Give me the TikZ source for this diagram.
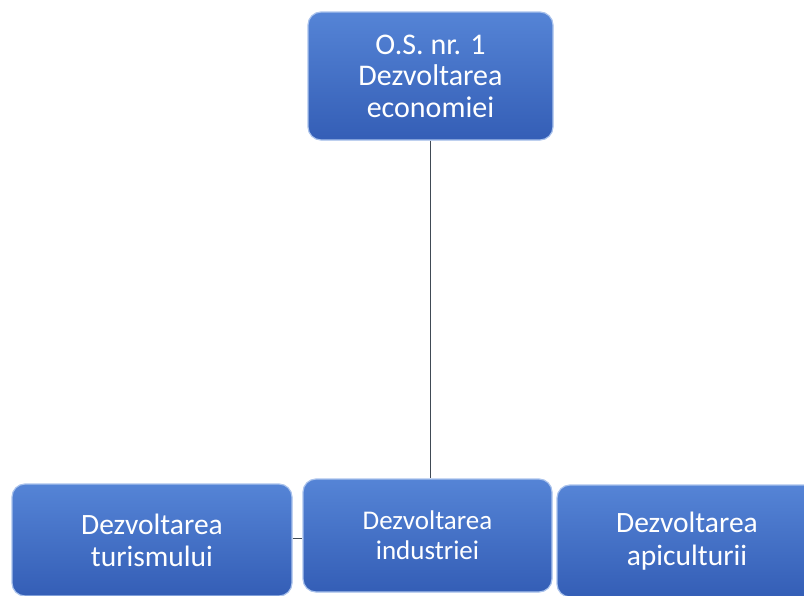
\documentclass[tikz,border=0pt]{standalone}
\usepackage{fontspec}
\setmainfont{Carlito}
\usepackage{tikz}
\usetikzlibrary{calc}
\definecolor{boxtop}{HTML}{5584D6}
\definecolor{boxbot}{HTML}{345EB6}
\definecolor{boxrim}{HTML}{A9C2EC}
\definecolor{linkgray}{HTML}{404A55}

\begin{document}
\begin{tikzpicture}[x=1pt, y=-1pt,
  goal/.style={rectangle, rounded corners=13pt, draw=boxrim, line width=1.2pt,
    top color=boxtop, bottom color=boxbot, text=white, align=center, inner sep=0pt},
  link/.style={draw=linkgray, line width=1pt}]
  \useasboundingbox (0,0) rectangle (804,595);
  \clip (0,0) rectangle (804,595);
  % top objective
  \node[goal, minimum width=245pt, minimum height=128pt,
        font=\fontsize{30}{31.5}\selectfont] (os) at (430.5,76)
        {O.S. nr. 1\\Dezvoltarea\\economiei};
  % directions
  \node[goal, minimum width=280pt, minimum height=112pt,
        font=\fontsize{29.5}{32}\selectfont] (tur) at (152,540)
        {Dezvoltarea\\turismului};
  \node[goal, minimum width=249pt, minimum height=113pt,
        font=\fontsize{27}{30}\selectfont] (ind) at (427.5,535.5)
        {Dezvoltarea\\industriei};
  \node[goal, minimum width=260pt, minimum height=112pt,
        font=\fontsize{29.5}{33}\selectfont] (api) at (687,541)
        {Dezvoltarea\\apiculturii};
  % links
  \draw[link] (os.south) -- (os.south |- ind.north);
  \draw[link] (tur.east |- 0,538) -- (ind.west |- 0,538);
\end{tikzpicture}
\end{document}
